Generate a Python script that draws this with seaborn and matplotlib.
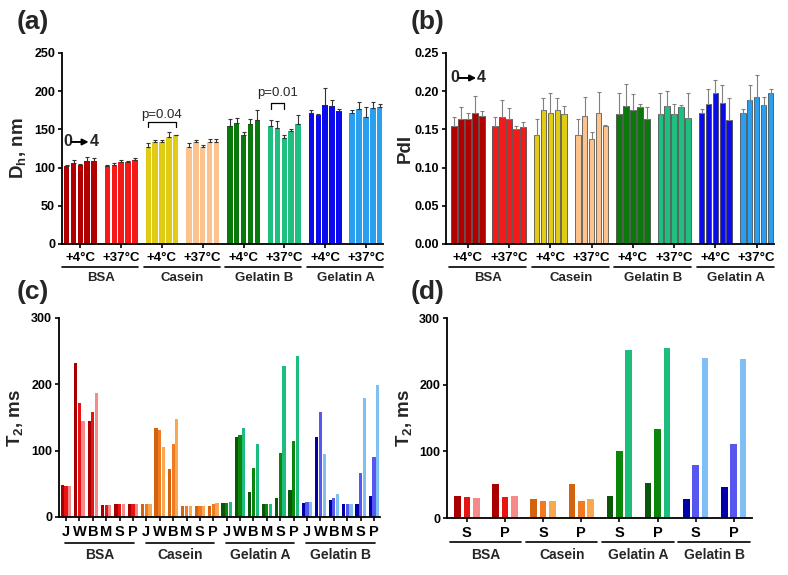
import matplotlib.pyplot as plt
import matplotlib.transforms as mtransforms
from matplotlib.container import BarContainer
import numpy as np
import pandas as pd
import seaborn as sns

# ---- data -------------------------------------------------------------
proteins_ab = ["BSA", "Casein", "Gelatin B", "Gelatin A"]
temps = ["+4°C", "+37°C"]
colors_ab = ["#b00000", "#f51a1a", "#e0cc14", "#fcc38e",
             "#0b780b", "#1fbf80", "#0b0bee", "#2a9ff0"]

# hydrodynamic diameter, 8 groups (protein x temperature) x 5 time points
dh_mean = [
    [102, 106, 103, 109, 109],
    [102, 104, 107, 107, 110],
    [127, 133, 133, 140, 142],
    [127, 133, 127, 133, 134],
    [155, 158, 143, 157, 162],
    [155, 152, 139, 148, 157],
    [172, 169, 182, 181, 174],
    [172, 176, 166, 178, 179],
]
dh_err = [
    [2, 4, 2, 5, 4],
    [2, 2, 3, 1, 3],
    [5, 3, 3, 6, 1],
    [5, 3, 2, 5, 4],
    [8, 7, 4, 7, 13],
    [7, 9, 3, 3, 12],
    [3, 1, 22, 7, 2],
    [3, 10, 13, 8, 4],
]

pdi_mean = [
    [0.154, 0.163, 0.164, 0.172, 0.168],
    [0.154, 0.166, 0.163, 0.150, 0.153],
    [0.142, 0.175, 0.172, 0.175, 0.170],
    [0.142, 0.168, 0.138, 0.171, 0.155],
    [0.170, 0.181, 0.175, 0.179, 0.163],
    [0.170, 0.180, 0.170, 0.179, 0.165],
    [0.171, 0.183, 0.198, 0.184, 0.162],
    [0.171, 0.188, 0.193, 0.182, 0.197],
]
pdi_err = [
    [0.012, 0.016, 0.008, 0.022, 0.006],
    [0.012, 0.022, 0.015, 0.004, 0.007],
    [0.021, 0.016, 0.026, 0.016, 0.010],
    [0.021, 0.025, 0.008, 0.028, 0.001],
    [0.027, 0.029, 0.021, 0.004, 0.016],
    [0.027, 0.020, 0.013, 0.003, 0.032],
    [0.005, 0.020, 0.017, 0.024, 0.029],
    [0.005, 0.020, 0.028, 0.010, 0.006],
]

proteins_cd = ["BSA", "Casein", "Gelatin A", "Gelatin B"]
media_c = ["J", "W", "B", "M", "S", "P"]
shades_cd = [
    ["#a80000", "#e81414", "#f58a8a"],
    ["#d2640f", "#f07a24", "#f8a850"],
    ["#0a560a", "#0b860b", "#1dbd7d"],
    ["#0000aa", "#5757f0", "#7fbff4"],
]

# T2 in six media, 3 bars each
t2_bsa = [[48, 46, 46], [232, 172, 144], [145, 158, 187],
          [18, 18, 18], [20, 20, 19], [19, 19, 19]]
t2_casein = [[19, 19, 19], [134, 131, 105], [73, 110, 147],
             [16, 16, 16], [17, 17, 17], [17, 19, 21]]
t2_gela = [[21, 21, 23], [121, 124, 134], [38, 74, 110],
           [20, 19, 19], [28, 96, 227], [40, 114, 242]]
t2_gelb = [[21, 22, 23], [120, 158, 95], [25, 29, 35],
           [20, 20, 19], [20, 67, 180], [31, 91, 199]]

media_d = ["S", "P"]
t2d_bsa = [[33, 31, 30], [51, 32, 33]]
t2d_casein = [[28, 26, 25], [51, 25, 28]]
t2d_gela = [[33, 101, 252], [52, 133, 255]]
t2d_gelb = [[28, 79, 240], [46, 111, 239]]

# ---- style ------------------------------------------------------------
sns.set_style("ticks")
plt.rcParams["font.family"] = ["Liberation Sans", "DejaVu Sans"]
plt.rcParams["font.weight"] = "bold"
plt.rcParams["axes.labelweight"] = "bold"
plt.rcParams["mathtext.fontset"] = "custom"
plt.rcParams["mathtext.rm"] = "Liberation Sans:bold"
plt.rcParams["mathtext.it"] = "Liberation Sans:bold"
plt.rcParams["mathtext.bf"] = "Liberation Sans:bold"

LABEL_SIZE = 13.5


def style_axis(ax, xsize=9.5):
    sns.despine(ax=ax)
    for side in ["left", "bottom"]:
        ax.spines[side].set_linewidth(1.3)
        ax.spines[side].set_color("black")
    ax.tick_params(axis="both", length=3, width=1.2, color="black",
                   labelsize=9, pad=2, labelcolor="black")
    ax.tick_params(axis="x", labelsize=xsize, pad=3)


def bar_containers(ax):
    return [c for c in ax.containers if isinstance(c, BarContainer)]


def group_lines(ax, centers, names, y_line, y_text, left, right, size=9.5):
    trans = mtransforms.blended_transform_factory(ax.transData, ax.transAxes)
    for c0, c1, name in zip(centers[0::2], centers[1::2], names):
        ax.plot([c0 + left, c1 + right], [y_line, y_line], color="black",
                lw=1.2, transform=trans, clip_on=False)
        ax.text((c0 + c1) / 2, y_text, name, transform=trans, ha="center",
                va="center", fontsize=size)


def long_frame(values, value_name):
    rows = []
    for g, vals in enumerate(values):
        for k, v in enumerate(vals):
            rows.append({"group": g, "level": k, value_name: v})
    return pd.DataFrame(rows)


def timecourse_panel(ax, means, errs, col, ecolor, edge, lw):
    df = long_frame(means, col)
    sns.barplot(data=df, x="group", y=col, hue="level", native_scale=True,
                dodge=True, width=0.84, gap=0.2, errorbar=None, legend=False,
                palette=["gray"] * 5, edgecolor=edge, linewidth=lw, ax=ax)
    for k, cont in enumerate(bar_containers(ax)):
        xs, ys, es = [], [], []
        for g, bar in enumerate(cont.patches):
            bar.set_facecolor(colors_ab[g])
            xs.append(bar.get_x() + bar.get_width() / 2)
            ys.append(means[g][k])
            es.append(errs[g][k])
        ax.errorbar(xs, ys, yerr=[np.zeros(len(es)), es], fmt="none",
                    ecolor=ecolor, elinewidth=0.8, capsize=1.5,
                    capthick=0.8, zorder=3)
    ax.set_xticks(range(8))
    ax.set_xticklabels(temps * 4)
    ax.set_xlabel("")
    style_axis(ax)
    group_lines(ax, list(range(8)), proteins_ab, -0.12, -0.18, -0.45, 0.42)


def bar_center(ax, level, group):
    bar = bar_containers(ax)[level].patches[group]
    return bar.get_x() + bar.get_width() / 2


def arrow_label(ax, x0, y):
    ax.text(x0, y, "0", transform=ax.transAxes, ha="left", va="center",
            fontsize=11.5)
    ax.annotate("", xy=(x0 + 0.080, y), xytext=(x0 + 0.027, y),
                xycoords="axes fraction",
                arrowprops=dict(arrowstyle="-|>", color="black", lw=1.4,
                                mutation_scale=9, shrinkA=0, shrinkB=0))
    ax.text(x0 + 0.083, y, "4", transform=ax.transAxes, ha="left",
            va="center", fontsize=11.5)


def bracket(ax, x0, x1, y, drop, label, ytext):
    ax.plot([x0, x0, x1, x1], [y - drop, y, y, y - drop], color="black",
            lw=0.9)
    ax.text((x0 + x1) / 2, ytext, label, ha="center", va="center",
            fontsize=9.5, fontweight="normal")


def t2_panel(ax, blocks, media, width, gap):
    values = [row for block in blocks for row in block]
    df = long_frame(values, "t2")
    sns.barplot(data=df, x="group", y="t2", hue="level", native_scale=True,
                dodge=True, width=width, gap=gap, errorbar=None, legend=False,
                palette=["gray"] * 3, linewidth=0, ax=ax)
    per = len(media)
    for s, cont in enumerate(bar_containers(ax)):
        for i, bar in enumerate(cont.patches):
            bar.set_facecolor(shades_cd[i // per][s])
    n = len(values)
    ax.set_xticks(range(n))
    ax.set_xticklabels(media * len(blocks))
    ax.set_xlabel("")
    ax.set_ylim(0, 300)
    ax.set_yticks([0, 100, 200, 300])
    ax.set_ylabel("T$_{2}$, ms", fontsize=LABEL_SIZE)
    style_axis(ax, xsize=10.5)


fig = plt.figure(figsize=(7.88, 5.75), dpi=100)

# (a) hydrodynamic diameter
ax_a = fig.add_axes([0.0787, 0.5757, 0.4074, 0.3322])
timecourse_panel(ax_a, dh_mean, dh_err, "dh", "#333333", "none", 0)
ax_a.set_ylim(0, 250)
ax_a.set_yticks(range(0, 251, 50))
ax_a.set_xlim(-0.45, 7.42)
ax_a.set_ylabel("D$_{h}$, nm", fontsize=LABEL_SIZE)
ax_a.yaxis.set_label_coords(-0.106, 0.5)
arrow_label(ax_a, 0.003, 0.534)
bracket(ax_a, bar_center(ax_a, 0, 2), bar_center(ax_a, 4, 2), 159, 6,
        "p=0.04", 169)
bracket(ax_a, bar_center(ax_a, 0, 5), bar_center(ax_a, 2, 5), 184, 8,
        "p=0.01", 197)

# (b) polydispersity index
ax_b = fig.add_axes([0.5660, 0.5757, 0.4162, 0.3322])
timecourse_panel(ax_b, pdi_mean, pdi_err, "pdi", "#808080", "#3a3a3a", 0.5)
ax_b.set_ylim(0, 0.25)
ax_b.set_yticks(np.arange(0, 0.251, 0.05))
ax_b.yaxis.set_major_formatter(plt.FormatStrFormatter("%.2f"))
ax_b.set_xlim(-0.53, 7.42)
ax_b.set_ylabel("PdI", fontsize=LABEL_SIZE)
ax_b.yaxis.set_label_coords(-0.098, 0.5)
arrow_label(ax_b, 0.012, 0.869)

# (c) T2 in six media
ax_c = fig.add_axes([0.0749, 0.1009, 0.4074, 0.3461])
t2_panel(ax_c, [t2_bsa, t2_casein, t2_gela, t2_gelb], media_c, 0.82, 0.12)
ax_c.set_xlim(-0.52, 23.45)
ax_c.yaxis.set_label_coords(-0.106, 0.5)
group_lines(ax_c, [0, 5, 6, 11, 12, 17, 18, 23], proteins_cd,
            -0.131, -0.19, -0.05, 0.05, size=10)

# (d) T2 in S and P
ax_d = fig.add_axes([0.5673, 0.0991, 0.3871, 0.3478])
t2_panel(ax_d, [t2d_bsa, t2d_casein, t2d_gela, t2d_gelb], media_d, 0.74, 0.3)
ax_d.set_xlim(-0.52, 7.48)
ax_d.yaxis.set_label_coords(-0.108, 0.5)
group_lines(ax_d, list(range(8)), proteins_cd, -0.12, -0.185, -0.45, 0.42,
            size=10)

for x, y, lab in [(0.0216, 0.962, "(a)"), (0.5216, 0.962, "(b)"),
                  (0.0216, 0.492, "(c)"), (0.5216, 0.492, "(d)")]:
    fig.text(x, y, lab, fontsize=19, va="center", ha="left")

fig.savefig("out.png", dpi=100)
plt.close(fig)
